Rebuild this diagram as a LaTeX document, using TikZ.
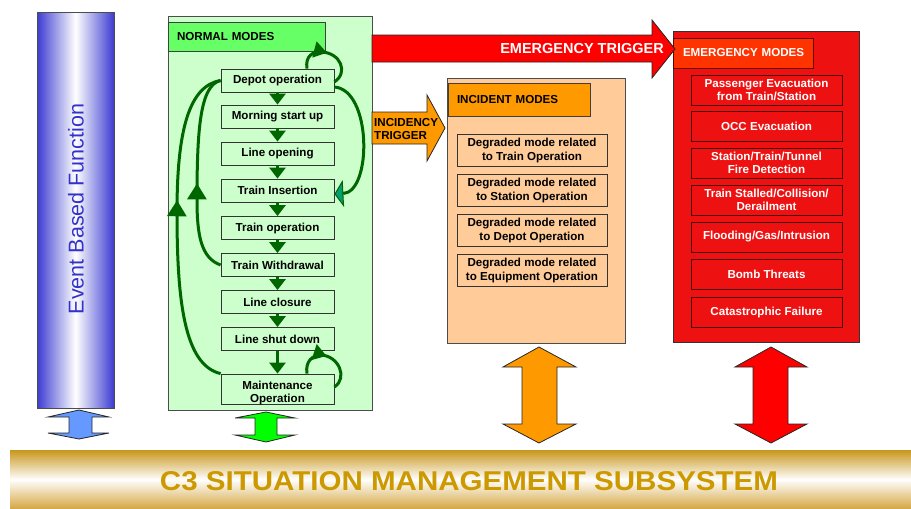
\documentclass[tikz,border=0pt]{standalone}
\usepackage{fontspec}
\setmainfont{Liberation Sans}
\usetikzlibrary{arrows.meta,decorations.markings}
\definecolor{ngreen}{HTML}{CCFFCC}
\definecolor{hgreen}{HTML}{66FF66}
\definecolor{dgreen}{HTML}{006600}
\definecolor{headteal}{HTML}{00A070}
\definecolor{peach}{HTML}{FFCC99}
\definecolor{iorange}{HTML}{FF9900}
\definecolor{ered}{HTML}{EE1111}
\definecolor{ehdr}{HTML}{FF3300}
\definecolor{bblue}{HTML}{3C3CD2}
\definecolor{tblue}{HTML}{3333CC}
\definecolor{goldA}{HTML}{C8961C}
\definecolor{goldB}{HTML}{D4A640}
\definecolor{goldtext}{HTML}{CC9900}
\definecolor{ablue}{HTML}{6699FF}
\definecolor{agreen}{HTML}{00FF00}
\definecolor{ared}{HTML}{FF0000}
\tikzset{
  bigbox/.style={draw=black!70, line width=0.8pt},
  hdr/.style={draw=black!75, line width=0.8pt, inner ysep=0pt, align=left,
    font=\fontsize{11.6}{13}\selectfont\bfseries},
  modebox/.style={draw=black!80, fill=ngreen, line width=0.8pt, minimum width=113pt,
    minimum height=23pt, inner sep=0pt, align=center,
    font=\fontsize{11.6}{13}\selectfont\bfseries},
  incbox/.style={draw=black!80, fill=peach, line width=0.8pt, minimum width=150pt,
    minimum height=32pt, inner sep=0pt, align=center,
    font=\fontsize{11.6}{14}\selectfont\bfseries},
  embox/.style={draw=black!70!red, fill=ered, line width=0.8pt, minimum width=151pt,
    minimum height=30pt, inner sep=0pt, align=center, text=white,
    font=\fontsize{11.6}{13}\selectfont\bfseries},
  flow/.style={draw=dgreen, line width=3.5pt, -{Triangle[width=16pt,length=11pt]}},
  loopmark/.style={draw=dgreen, line width=3pt, postaction={decorate},
    decoration={markings, mark=at position #1 with {\arrow{Triangle[width=16pt,length=13pt]}}}},
  bigmark/.style={draw=dgreen, line width=3pt, postaction={decorate},
    decoration={markings, mark=at position #1 with {\arrow{Triangle[width=19pt,length=16pt]}}}},
  dbl/.style={draw=black!85, line width=0.8pt},
}
\begin{document}
\begin{tikzpicture}[x=1pt,y=-1pt]
\useasboundingbox (0,0) rectangle (911,509);

% Event based function bar
\shade[left color=bblue, right color=bblue, middle color=white] (37,12) rectangle (114,408);
\draw[bigbox] (37,12) rectangle (114,408);
\node[rotate=90, text=tblue, font=\fontsize{21.5}{24}\selectfont, inner sep=0pt] (ebf) at (76,209) {Event Based Function};

% Normal modes box
\node[bigbox, fill=ngreen, minimum width=204pt, minimum height=394pt, inner sep=0pt] (nbox) at (270,213) {};
\node[hdr, fill=hgreen, minimum width=157pt, minimum height=29pt, inner xsep=9pt, text width=139pt] (nh) at (246.5,36.5) {NORMAL MODES};

\node[modebox] (dp) at (277.5,80.5) {Depot operation};
\node[modebox] (mo) at (277.5,116.5) {Morning start up};
\node[modebox] (lo) at (277.5,153.5) {Line opening};
\node[modebox] (ins) at (277.5,190.5) {Train Insertion};
\node[modebox] (to) at (277.5,228) {Train operation};
\node[modebox] (wd) at (277.5,265) {Train Withdrawal};
\node[modebox] (lc) at (277.5,302) {Line closure};
\node[modebox] (sd) at (277.5,339) {Line shut down};
\node[modebox, minimum height=30pt] (mt) at (277.5,389) {};
\node[inner sep=0pt, align=center, font=\fontsize{11.6}{13}\selectfont\bfseries] (mtx) at (277.5,393) {Maintenance\\Operation};

\draw[flow] (dp.south) -- (mo.north);
\draw[flow] (mo.south) -- (lo.north);
\draw[flow] (lo.south) -- (ins.north);
\draw[flow] (ins.south) -- (to.north);
\draw[flow] (to.south) -- (wd.north);
\draw[flow] (wd.south) -- (lc.north);
\draw[flow] (lc.south) -- (sd.north);
\draw[flow] (sd.south) -- (mt.north);

% self loops
\draw[loopmark=0.45] ([xshift=29.5pt]dp.north) .. controls (305,56) and (313,51) .. (322,52) .. controls (340,53) and (349,72) .. ([yshift=-1.5pt]dp.east);
\draw[loopmark=0.45] ([xshift=29.5pt]mt.north) .. controls (305,361) and (313,355) .. (321,355) .. controls (339,356) and (348,378) .. ([yshift=2pt]mt.east);

% big right curve
\draw[draw=dgreen, line width=3pt, -{Triangle[width=27pt,length=9pt,fill=headteal,line width=1pt]}]
  ([yshift=-6.5pt]dp.east) .. controls (372,90) and (372,192) .. ([yshift=-3.5pt]ins.east);

% left return curves
\draw[bigmark=0.58] (mt.north west) .. controls (184,365) and (177,300) .. (177,212) .. controls (177,130) and (189,86) .. (dp.west);
\draw[bigmark=0.45] (wd.west) .. controls (201,258) and (197,235) .. (197,200) .. controls (197,130) and (200,85) .. (dp.west);

% Incident modes box
\node[bigbox, fill=peach, minimum width=178pt, minimum height=265pt, inner sep=0pt] (ibox) at (536,210.5) {};
\node[hdr, fill=iorange, minimum width=142pt, minimum height=33pt, inner xsep=9pt, text width=124pt] (ih) at (519,99.5) {INCIDENT MODES};
\node[incbox] (i1) at (532,150) {Degraded mode related\\to Train Operation};
\node[incbox] (i2) at (532,190) {Degraded mode related\\to Station Operation};
\node[incbox] (i3) at (532,230) {Degraded mode related\\to Depot Operation};
\node[incbox] (i4) at (532,270.5) {Degraded mode related\\to Equipment Operation};

% Emergency modes box
\node[bigbox, draw=black!80, fill=ered, minimum width=186pt, minimum height=311pt, inner sep=0pt] (ebox) at (766,186.5) {};
\node[hdr, draw=black!60!red, fill=ehdr, text=white, minimum width=140pt, minimum height=30pt, inner xsep=10pt, text width=120pt] (eh) at (743,53) {\mbox{EMERGENCY MODES}};
\node[embox] (e1) at (766.5,90) {Passenger Evacuation\\from Train/Station};
\node[embox] (e2) at (766.5,126) {OCC Evacuation};
\node[embox] (e3) at (766.5,163) {Station/Train/Tunnel\\Fire Detection};
\node[embox] (e4) at (766.5,200) {Train Stalled/Collision/\\Derailment};
\node[embox] (e5) at (766.5,237) {Flooding/Gas/Intrusion};
\node[embox] (e6) at (766.5,274) {Bomb Threats};
\node[embox] (e7) at (766.5,312) {Catastrophic Failure};

% Emergency trigger arrow
\draw[dbl, fill=ared] (372,35) -- (652,35) -- (652,20) -- (675,49) -- (652,78) -- (652,62) -- (372,62) -- cycle;
\node[anchor=east, inner sep=0pt, text=white, font=\fontsize{14.5}{16}\selectfont\bfseries] (et) at (664,48.5) {EMERGENCY TRIGGER};

% Incidency trigger arrow
\draw[dbl, fill=iorange] (372,112) -- (427,112) -- (427,95) -- (445,128) -- (427,161) -- (427,144) -- (372,144) -- cycle;
\node[anchor=west, inner sep=0pt, align=left, font=\fontsize{11.6}{13}\selectfont\bfseries] (itx) at (374,129.5) {INCIDENCY\\TRIGGER};

% double arrows
\draw[dbl, fill=ablue] (79,410) -- (109,417) -- (92,417) -- (92,433) -- (109,433) -- (79,439) -- (48,433) -- (69,433) -- (69,417) -- (48,417) -- cycle;
\draw[dbl, fill=agreen] (266,412) -- (295,418) -- (277,418) -- (277,435) -- (295,435) -- (266,442) -- (235,435) -- (255,435) -- (255,418) -- (235,418) -- cycle;
\draw[dbl, fill=iorange] (539,347) -- (576,367) -- (557,367) -- (557,424) -- (576,424) -- (539,443) -- (503,424) -- (522,424) -- (522,367) -- (503,367) -- cycle;
\draw[dbl, fill=ared] (771,347) -- (807,367) -- (788,367) -- (788,424) -- (807,424) -- (771,443) -- (735,424) -- (753,424) -- (753,367) -- (735,367) -- cycle;

% C3 bar
\shade[top color=goldA, bottom color=goldB, middle color=white] (10,450) rectangle (911,509);
\node[inner sep=0pt, text=goldtext] (c3) at (469,481.5) {\resizebox{618pt}{19pt}{\bfseries C3 SITUATION MANAGEMENT SUBSYSTEM}};
\end{tikzpicture}
\end{document}
